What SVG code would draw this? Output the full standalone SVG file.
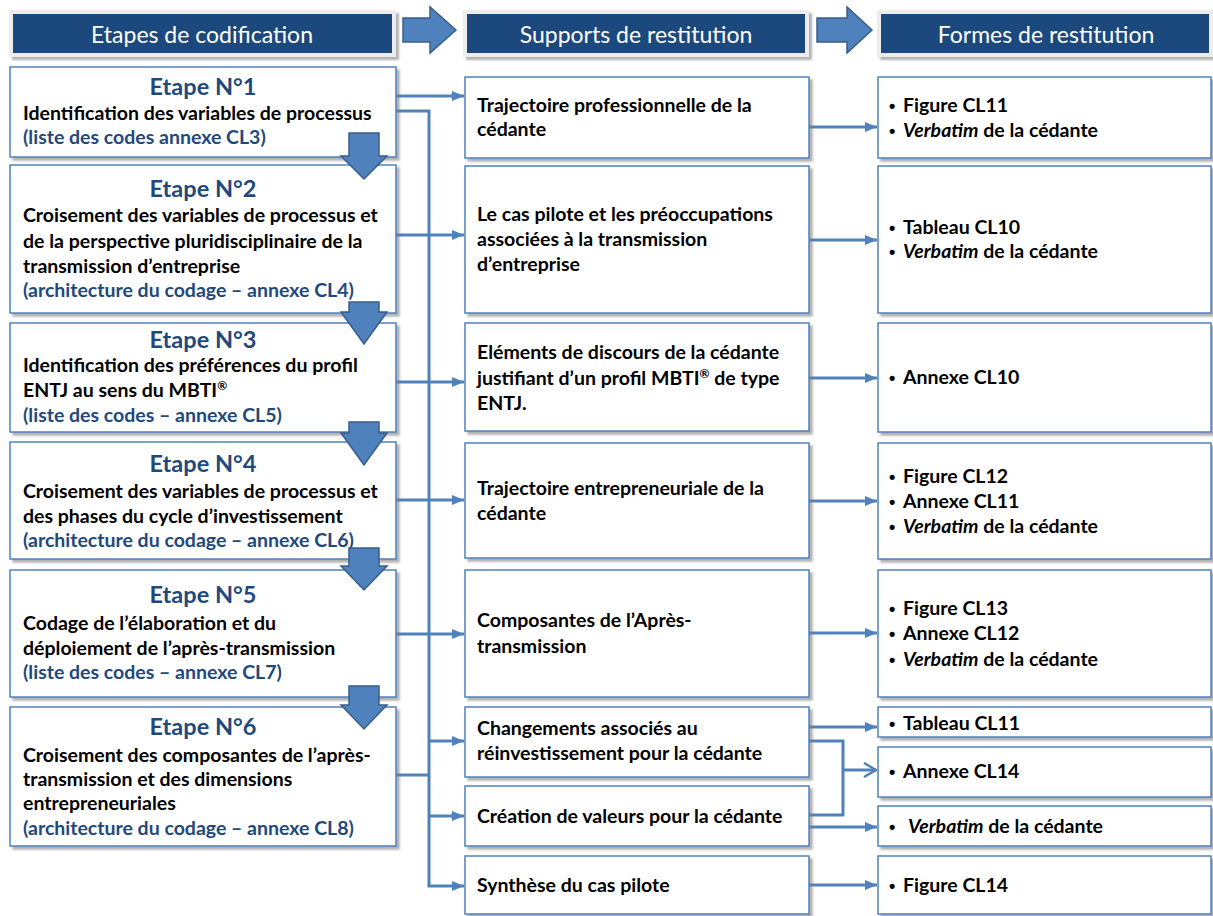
<svg xmlns="http://www.w3.org/2000/svg" width="1213" height="916" viewBox="0 0 1213 916">
<style>
text{font-family:Lato,"Open Sans","Liberation Sans",sans-serif;font-weight:bold;font-size:19.5px;fill:#000}
.hd{fill:#fff;font-size:23px;font-weight:normal;text-anchor:middle}
.hd-box{fill:#1F497D;stroke:#ececec;stroke-width:4}
.box{fill:#fff;stroke:#4F81BD;stroke-width:1.5;filter:url(#sh)}
.ttl{fill:#1F497D;font-size:23.5px;text-anchor:middle}
.blue{fill:#1F497D}
.bul{font-family:"Liberation Sans",Arial,sans-serif;font-size:18px}
.it{font-style:italic}
.barrow{fill:#4F81BD;stroke:#385D8A;stroke-width:1.5}
.con{fill:none;stroke:#4F81BD;stroke-width:3}
.arr{marker-end:url(#ah)}
</style>
<defs>
<filter id="sh" x="-5%" y="-5%" width="112%" height="120%">
<feDropShadow dx="3" dy="3" stdDeviation="1.2" flood-color="#7f7f7f" flood-opacity="0.6"/>
</filter>
<marker id="ah" markerUnits="userSpaceOnUse" markerWidth="12" markerHeight="10" refX="12" refY="5" orient="auto">
<path d="M0,0 L12,5 L0,10 z" fill="#4F81BD"/>
</marker>
<marker id="oh" markerUnits="userSpaceOnUse" markerWidth="14" markerHeight="16" refX="13" refY="8" orient="auto">
<path d="M1,1 L13,8 L1,15" fill="none" stroke="#4F81BD" stroke-width="2.5"/>
</marker>
</defs>

<g id="headers">
<g id="h1"><rect class="hd-box" x="11" y="12" width="383" height="43" filter="url(#sh)"/><text class="hd" x="202" y="43">Etapes de codification</text></g>
<g id="h2"><rect class="hd-box" x="465" y="12" width="342" height="43" filter="url(#sh)"/><text class="hd" x="636" y="43">Supports de restitution</text></g>
<g id="h3"><rect class="hd-box" x="879" y="12" width="332" height="43" filter="url(#sh)"/><text class="hd" x="1046" y="43">Formes de restitution</text></g>
<g id="harrow1"><path class="barrow" d="M403,18 H430 V7 L456,30 L430,53 V42 H403 Z"/></g>
<g id="harrow2"><path class="barrow" d="M817,18 H847 V7 L872,30 L847,53 V42 H817 Z"/></g>
</g>

<g id="connectors">
<line class="con arr" x1="396" y1="96" x2="464" y2="96"/>
<polyline class="con" points="396,111 429,111 429,886"/>
<line class="con arr" x1="396" y1="235" x2="464" y2="235"/>
<line class="con arr" x1="396" y1="382" x2="464" y2="382"/>
<line class="con arr" x1="396" y1="500" x2="464" y2="500"/>
<line class="con arr" x1="396" y1="634" x2="464" y2="634"/>
<line class="con" x1="396" y1="775" x2="429" y2="775"/>
<line class="con arr" x1="429" y1="741" x2="464" y2="741"/>
<line class="con arr" x1="429" y1="816" x2="464" y2="816"/>
<line class="con arr" x1="427.5" y1="886" x2="464" y2="886"/>
<line class="con arr" x1="809" y1="127" x2="877" y2="127"/>
<line class="con arr" x1="809" y1="240" x2="877" y2="240"/>
<line class="con arr" x1="809" y1="378" x2="877" y2="378"/>
<line class="con arr" x1="809" y1="501" x2="877" y2="501"/>
<line class="con arr" x1="809" y1="633" x2="877" y2="633"/>
<line class="con arr" x1="809" y1="727" x2="877" y2="727"/>
<polyline class="con" points="809,741 843,741 843,815 809,815"/>
<line class="con" x1="843" y1="770" x2="876" y2="770" marker-end="url(#oh)"/>
<line class="con arr" x1="809" y1="827" x2="877" y2="827"/>
<line class="con arr" x1="809" y1="885" x2="877" y2="885"/>
</g>

<g id="etape1"><rect class="box" x="10" y="67" width="386" height="90"/>
<text class="ttl" x="203" y="95">Etape N°1</text>
<text x="23" y="120">Identification des variables de processus</text>
<text class="blue" x="23" y="144">(liste des codes annexe CL3)</text></g>

<g id="etape2"><rect class="box" x="10" y="165" width="386" height="148"/>
<text class="ttl" x="203" y="197">Etape N°2</text>
<text x="23" y="222">Croisement des variables de processus et</text>
<text x="23" y="248">de la perspective pluridisciplinaire de la</text>
<text x="23" y="273">transmission d’entreprise</text>
<text class="blue" x="23" y="297">(architecture du codage – annexe CL4)</text></g>

<g id="etape3"><rect class="box" x="10" y="323" width="386" height="109"/>
<text class="ttl" x="203" y="348">Etape N°3</text>
<text x="23" y="372">Identification des préférences du profil</text>
<text x="23" y="397">ENTJ au sens du MBTI<tspan font-size="12" dy="-7">®</tspan></text>
<text class="blue" x="23" y="422">(liste des codes – annexe CL5)</text></g>

<g id="etape4"><rect class="box" x="10" y="442" width="386" height="117"/>
<text class="ttl" x="203" y="472">Etape N°4</text>
<text x="23" y="498">Croisement des variables de processus et</text>
<text x="23" y="523">des phases du cycle d’investissement</text>
<text class="blue" x="23" y="547">(architecture du codage – annexe CL6)</text></g>

<g id="etape5"><rect class="box" x="10" y="570" width="386" height="127"/>
<text class="ttl" x="203" y="603">Etape N°5</text>
<text x="23" y="630">Codage de l’élaboration et du</text>
<text x="23" y="655">déploiement de l’après-transmission</text>
<text class="blue" x="23" y="679">(liste des codes – annexe CL7)</text></g>

<g id="etape6"><rect class="box" x="10" y="707" width="386" height="139"/>
<text class="ttl" x="203" y="735">Etape N°6</text>
<text x="23" y="762">Croisement des composantes de l’après-</text>
<text x="23" y="786">transmission et des dimensions</text>
<text x="23" y="810">entrepreneuriales</text>
<text class="blue" x="23" y="835">(architecture du codage – annexe CL8)</text></g>

<g id="downarrows">
<path class="barrow" d="M349,133 H379 V156 H387 L364,179 L341,156 H349 Z"/>
<path class="barrow" d="M349,302 H379 V312 H387 L364,344 L341,312 H349 Z"/>
<path class="barrow" d="M349,422 H379 V433 H387 L364,465 L341,433 H349 Z"/>
<path class="barrow" d="M349,548 H379 V566 H387 L364,590 L341,566 H349 Z"/>
<path class="barrow" d="M349,686 H379 V705 H387 L364,729 L341,705 H349 Z"/>
</g>

<g id="supportA"><rect class="box" x="465" y="77" width="344" height="81"/>
<text x="477" y="112">Trajectoire professionnelle de la</text>
<text x="477" y="136">cédante</text></g>
<g id="supportB"><rect class="box" x="465" y="166" width="344" height="147"/>
<text x="477" y="221">Le cas pilote et les préoccupations</text>
<text x="477" y="246">associées à la transmission</text>
<text x="477" y="271">d’entreprise</text></g>
<g id="supportC"><rect class="box" x="465" y="323" width="344" height="108"/>
<text x="477" y="359">Eléments de discours de la cédante</text>
<text x="477" y="385">justifiant d’un profil MBTI<tspan font-size="12" dy="-7">®</tspan><tspan dy="7"> de type</tspan></text>
<text x="477" y="410">ENTJ.</text></g>
<g id="supportD"><rect class="box" x="465" y="443" width="344" height="115"/>
<text x="477" y="495">Trajectoire entrepreneuriale de la</text>
<text x="477" y="520">cédante</text></g>
<g id="supportE"><rect class="box" x="465" y="570" width="344" height="127"/>
<text x="477" y="627">Composantes de l’Après-</text>
<text x="477" y="653">transmission</text></g>
<g id="supportF"><rect class="box" x="465" y="707" width="344" height="70"/>
<text x="477" y="735">Changements associés au</text>
<text x="477" y="760">réinvestissement pour la cédante</text></g>
<g id="supportG"><rect class="box" x="465" y="786" width="344" height="60"/>
<text x="477" y="823">Création de valeurs pour la cédante</text></g>
<g id="supportH"><rect class="box" x="465" y="856" width="344" height="58"/>
<text x="477" y="892">Synthèse du cas pilote</text></g>

<g id="forme1"><rect class="box" x="878" y="77" width="333" height="81"/>
<text x="889" y="112"><tspan class="bul">•</tspan><tspan x="903">Figure CL11</tspan></text>
<text x="889" y="137"><tspan class="bul">•</tspan><tspan x="903" class="it">Verbatim</tspan> de la cédante</text></g>
<g id="forme2"><rect class="box" x="878" y="166" width="333" height="147"/>
<text x="889" y="234"><tspan class="bul">•</tspan><tspan x="903">Tableau CL10</tspan></text>
<text x="889" y="258"><tspan class="bul">•</tspan><tspan x="903" class="it">Verbatim</tspan> de la cédante</text></g>
<g id="forme3"><rect class="box" x="878" y="323" width="333" height="109"/>
<text x="889" y="384"><tspan class="bul">•</tspan><tspan x="903">Annexe CL10</tspan></text></g>
<g id="forme4"><rect class="box" x="878" y="443" width="333" height="116"/>
<text x="889" y="483"><tspan class="bul">•</tspan><tspan x="903">Figure CL12</tspan></text>
<text x="889" y="508"><tspan class="bul">•</tspan><tspan x="903">Annexe CL11</tspan></text>
<text x="889" y="533"><tspan class="bul">•</tspan><tspan x="903" class="it">Verbatim</tspan> de la cédante</text></g>
<g id="forme5"><rect class="box" x="878" y="570" width="333" height="127"/>
<text x="889" y="615"><tspan class="bul">•</tspan><tspan x="903">Figure CL13</tspan></text>
<text x="889" y="640"><tspan class="bul">•</tspan><tspan x="903">Annexe CL12</tspan></text>
<text x="889" y="666"><tspan class="bul">•</tspan><tspan x="903" class="it">Verbatim</tspan> de la cédante</text></g>
<g id="forme6"><rect class="box" x="878" y="707" width="333" height="30"/>
<text x="889" y="730"><tspan class="bul">•</tspan><tspan x="903">Tableau CL11</tspan></text></g>
<g id="forme7"><rect class="box" x="878" y="747" width="333" height="50"/>
<text x="889" y="778"><tspan class="bul">•</tspan><tspan x="903">Annexe CL14</tspan></text></g>
<g id="forme8"><rect class="box" x="878" y="806" width="333" height="40"/>
<text x="889" y="833"><tspan class="bul">•</tspan><tspan x="908" class="it">Verbatim</tspan> de la cédante</text></g>
<g id="forme9"><rect class="box" x="878" y="856" width="333" height="58"/>
<text x="889" y="892"><tspan class="bul">•</tspan><tspan x="903">Figure CL14</tspan></text></g>
</svg>
